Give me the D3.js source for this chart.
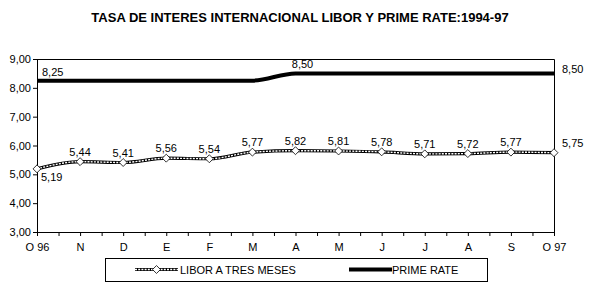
<!DOCTYPE html>
<html>
<head>
<meta charset="utf-8">
<script src="https://cdn.jsdelivr.net/npm/d3@7"></script>
<style>
  body { margin: 0; background: #fff; }
  text { font-family: "Liberation Sans", Arial, sans-serif; }
</style>
</head>
<body>
<div id="chart"></div>
<script>
var months = ["O 96", "N", "D", "E", "F", "M", "A", "M", "J", "J", "A", "S", "O 97"];
var libor = [5.19, 5.44, 5.41, 5.56, 5.54, 5.77, 5.82, 5.81, 5.78, 5.71, 5.72, 5.77, 5.75];
var prime = [8.25, 8.25, 8.25, 8.25, 8.25, 8.25, 8.50, 8.50, 8.50, 8.50, 8.50, 8.50, 8.50];
var yTicks = [3, 4, 5, 6, 7, 8, 9];

var width = 593,
    height = 284;

var svg = d3.select("#chart").append("svg")
    .attr("width", width)
    .attr("height", height);

var fmt = function (v) { return d3.format(".2f")(v).replace(".", ","); };

var x = d3.scaleLinear().domain([0, months.length - 1]).range([37, 554]);
var y = d3.scaleLinear().domain([3, 9]).range([232, 59]);

// title
svg.append("text")
    .attr("x", 300)
    .attr("y", 22)
    .attr("text-anchor", "middle")
    .style("font-family", "'Liberation Sans Narrow', 'Arial Narrow', sans-serif")
    .style("font-weight", "bold")
    .style("font-size", "13px")
    .text("TASA DE INTERES INTERNACIONAL LIBOR Y PRIME RATE:1994-97");

// plot border (top + right)
svg.append("path")
    .attr("d", "M" + x(0) + "," + (y(9) + 0.5) + "H" + (x(12) + 0.5) + "V" + y(3))
    .attr("fill", "none")
    .attr("stroke", "#000");

// y axis
var yAxis = d3.axisLeft(y)
    .tickValues(yTicks)
    .tickSize(4)
    .tickFormat(fmt);
var gy = svg.append("g")
    .attr("transform", "translate(" + x(0) + ",0)")
    .call(yAxis);
gy.selectAll("text").style("font-size", "11px").attr("fill", "#000").attr("x", -6);

// x axis with half-month minor ticks
var halfTicks = d3.range(0, months.length - 0.5, 0.5);
var xAxis = d3.axisBottom(x)
    .tickValues(halfTicks)
    .tickSize(4)
    .tickFormat(function (d) { return d % 1 === 0 ? months[d] : ""; });
var gx = svg.append("g")
    .attr("transform", "translate(0," + y(3) + ")")
    .call(xAxis);
gx.selectAll("text").style("font-size", "11px").attr("fill", "#000").attr("y", 11);

var line = d3.line()
    .x(function (d, i) { return x(i); })
    .y(function (d) { return y(d); })
    .curve(d3.curveMonotoneX);

// prime rate
svg.append("path")
    .datum(prime)
    .attr("d", line)
    .attr("fill", "none")
    .attr("stroke", "#000")
    .attr("stroke-width", 4);

// libor: chain-like line
svg.append("path")
    .datum(libor)
    .attr("d", line)
    .attr("fill", "none")
    .attr("stroke", "#000")
    .attr("stroke-width", 3.2);
svg.append("path")
    .datum(libor)
    .attr("d", line)
    .attr("fill", "none")
    .attr("stroke", "#fff")
    .attr("stroke-width", 1.4)
    .attr("stroke-dasharray", "2,1.2");

var diamond = d3.symbol().type(d3.symbolDiamond2).size(40);
svg.selectAll(".mk")
    .data(libor)
    .enter().append("path")
    .attr("class", "mk")
    .attr("d", diamond)
    .attr("transform", function (d, i) { return "translate(" + x(i) + "," + y(d) + ")"; })
    .attr("fill", "#fff")
    .attr("stroke", "#000")
    .attr("stroke-width", 0.8);

// libor labels
svg.selectAll(".lbl")
    .data(libor)
    .enter().append("text")
    .attr("class", "lbl")
    .style("font-size", "11px")
    .attr("x", function (d, i) {
        if (i === 0) return x(i) + 4;
        if (i === libor.length - 1) return x(i) + 8;
        return x(i);
    })
    .attr("y", function (d, i) {
        if (i === 0) return y(d) + 12;
        if (i === libor.length - 1) return y(d) - 6;
        return y(d) - 6;
    })
    .attr("text-anchor", function (d, i) { return (i === 0 || i === libor.length - 1) ? "start" : "middle"; })
    .text(fmt);

// prime labels
var primeLabels = [0, 6, 12];
svg.selectAll(".plbl")
    .data(primeLabels)
    .enter().append("text")
    .attr("class", "plbl")
    .style("font-size", "11px")
    .attr("x", function (i) {
        if (i === 0) return x(i) + 5;
        if (i === 12) return x(i) + 8;
        return x(i) + 7;
    })
    .attr("y", function (i) {
        if (i === 12) return y(prime[i]) + 0;
        return y(prime[i]) - 5;
    })
    .attr("text-anchor", function (i) { return i === 6 ? "middle" : "start"; })
    .text(function (i) { return fmt(prime[i]); });

// legend
var lg = svg.append("g");
lg.append("rect")
    .attr("x", 105.5).attr("y", 258.5)
    .attr("width", 382).attr("height", 23)
    .attr("fill", "#fff").attr("stroke", "#000");
var ly = 269.5;
lg.append("line").attr("x1", 135).attr("x2", 178).attr("y1", ly).attr("y2", ly)
    .attr("stroke", "#000").attr("stroke-width", 3.2);
lg.append("line").attr("x1", 135).attr("x2", 178).attr("y1", ly).attr("y2", ly)
    .attr("stroke", "#fff").attr("stroke-width", 1.4).attr("stroke-dasharray", "2,1.2");
lg.append("path").attr("d", diamond)
    .attr("transform", "translate(156.5," + ly + ")")
    .attr("fill", "#fff").attr("stroke", "#000").attr("stroke-width", 0.8);
lg.append("text").attr("x", 180).attr("y", ly + 4).style("font-size", "11px").text("LIBOR A TRES MESES");
lg.append("line").attr("x1", 349).attr("x2", 392).attr("y1", ly).attr("y2", ly)
    .attr("stroke", "#000").attr("stroke-width", 4);
lg.append("text").attr("x", 392).attr("y", ly + 4).style("font-size", "11px").text("PRIME RATE");
</script>
</body>
</html>
